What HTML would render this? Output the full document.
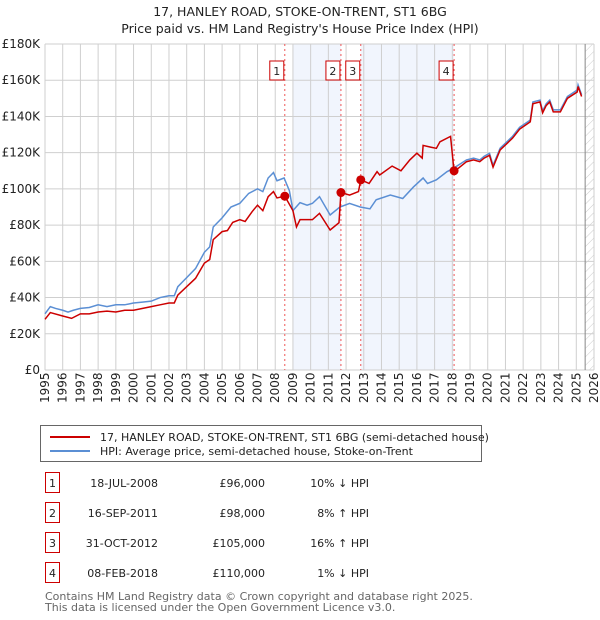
<!DOCTYPE html>
<html><head><meta charset="utf-8">
<style>
body{margin:0;background:#fff;font-family:"Liberation Sans","DejaVu Sans",sans-serif;}
#wrap{position:relative;width:600px;height:620px;overflow:hidden;}
svg text{font-family:"DejaVu Sans","Liberation Sans",sans-serif;}
</style></head>
<body><div id="wrap">
<svg id="chart" width="600" height="620"></svg>
</div>
<script>
const yearTicks=[1995,1996,1997,1998,1999,2000,2001,2002,2003,2004,2005,2006,2007,2008,2009,2010,2011,2012,2013,2014,2015,2016,2017,2018,2019,2020,2021,2022,2023,2024,2025,2026];
const yTicks=[0,20,40,60,80,100,120,140,160,180];
const yTickLabels=["£0","£20K","£40K","£60K","£80K","£100K","£120K","£140K","£160K","£180K"];
const hpiYears=[1995.0,1995.3,1995.6,1996.0,1996.3,1996.6,1997.0,1997.5,1998.0,1998.5,1999.0,1999.5,2000.0,2000.5,2001.0,2001.5,2002.0,2002.3,2002.5,2003.0,2003.5,2004.0,2004.3,2004.5,2005.0,2005.5,2006.0,2006.5,2007.0,2007.3,2007.6,2007.9,2008.1,2008.5,2008.8,2009.0,2009.4,2009.8,2010.1,2010.5,2011.1,2011.65,2012.2,2012.8,2013.35,2013.7,2014.5,2015.2,2015.8,2016.35,2016.6,2017.1,2017.7,2018.05,2018.8,2019.2,2019.55,2019.8,2020.1,2020.3,2020.7,2021.4,2021.8,2022.4,2022.55,2022.95,2023.1,2023.3,2023.5,2023.7,2024.1,2024.5,2025.05,2025.1,2025.3];
const hpiValues=[31,35,34,33,32,33,34,34.5,36,35,36,36,37,37.5,38,40,41,41,46,51,56,65,68,79,84,90,92,97.5,100,98.5,106,109,104.5,106,99,88,92.4,91,92,95.7,85.6,90,92,90,89,94,96.6,94.7,101,106,103,105,109.5,111.3,116,117,116,118,119.6,113,122.5,129,134,138,148,149,143,147,149,143.6,143.6,151,154.6,157.4,152];
const ppYears=[1995.0,1995.3,1996.0,1996.5,1997.0,1997.5,1998.0,1998.5,1999.0,1999.5,2000.0,2001.0,2001.5,2002.0,2002.3,2002.5,2003.0,2003.5,2004.0,2004.3,2004.5,2005.0,2005.3,2005.6,2006.0,2006.3,2006.7,2007.0,2007.3,2007.6,2007.9,2008.1,2008.54,2009.0,2009.2,2009.4,2010.1,2010.5,2011.1,2011.6,2011.71,2012.2,2012.7,2012.83,2013.3,2013.75,2013.9,2014.6,2015.1,2015.6,2016.0,2016.3,2016.35,2016.8,2017.1,2017.3,2017.9,2018.1,2018.8,2019.2,2019.55,2019.8,2020.1,2020.3,2020.7,2021.4,2021.8,2022.4,2022.55,2022.95,2023.1,2023.3,2023.5,2023.7,2024.1,2024.5,2025.05,2025.1,2025.3];
const ppValues=[28,31.7,29.8,28.5,31,31,32,32.5,32,33,33,35,36,37,37,41.4,46,50.6,59,61,72,76.4,77,81.5,83,82,87.5,91,88,95.7,98.5,95,96,88,79,83,83,86.5,77.3,81.3,98,96.6,98.5,105,103,109.5,107.7,112.6,110,116,119.7,117,124,123,122.4,126,129,109.5,115,116,115,117,118.5,112,121.5,128,133,137,147,148,142,146,148,142.5,142.5,150,153.5,156.5,151];
const saleYears=[2008.54,2011.71,2012.83,2018.1];
const saleValues=[96,98,105,110];
const saleLabels=["1","2","3","4"];
const saleDates=["18-JUL-2008","16-SEP-2011","31-OCT-2012","08-FEB-2018"];
const salePrices=["£96,000","£98,000","£105,000","£110,000"];
const saleHpi=["10% ↓ HPI","8% ↑ HPI","16% ↑ HPI","1% ↓ HPI"];

const svg=document.getElementById('chart');const NS='http://www.w3.org/2000/svg';
const L=45,R=594,T=44,B=370;
const xs=y=>L+(y-1995)*(R-L)/31;
const ys=v=>B-v*(B-T)/180;
function mk(tag,attrs,parent){const e=document.createElementNS(NS,tag);for(const k in attrs)e.setAttribute(k,attrs[k]);(parent||svg).appendChild(e);return e;}
let t=mk('text',{x:300,y:16,'text-anchor':'middle','font-size':12.5,fill:'#222'});t.textContent='17, HANLEY ROAD, STOKE-ON-TRENT, ST1 6BG';

t=mk('text',{x:300,y:33,'text-anchor':'middle','font-size':12.5,fill:'#222'});t.textContent="Price paid vs. HM Land Registry's House Price Index (HPI)";

let s=mk('rect',{x:xs(2009.0),y:T,width:xs(saleYears[1])-xs(2009.0),height:B-T,fill:'#f1f5fd'});

s=mk('rect',{x:xs(saleYears[2]),y:T,width:xs(saleYears[3])-xs(saleYears[2]),height:B-T,fill:'#f1f5fd'});

const defs=mk('defs',{});const pat=mk('pattern',{id:'h',width:6,height:6,patternUnits:'userSpaceOnUse',patternTransform:'rotate(45)'},defs);
mk('line',{x1:0,y1:0,x2:0,y2:6,stroke:'#ccc','stroke-width':1},pat);
s=mk('rect',{x:xs(2025.5),y:T,width:R-xs(2025.5),height:B-T,fill:'url(#h)'});

yearTicks.forEach(y=>{const g=mk('line',{x1:xs(y),x2:xs(y),y1:T,y2:B,stroke:'#cfcfcf','stroke-width':1});

const tx=mk('text',{x:0,y:0,'font-size':12,fill:'#222',transform:`translate(${xs(y)+4},${B+33}) rotate(-90)`});tx.textContent=y;
});
yTicks.forEach((v,i)=>{const g=mk('line',{x1:L,x2:R,y1:ys(v),y2:ys(v),stroke:'#cfcfcf','stroke-width':1});

const tx=mk('text',{x:L-5,y:ys(v)+4,'text-anchor':'end','font-size':12,fill:'#222'});tx.textContent=yTickLabels[i];
});
let ln=mk('line',{x1:xs(2025.5),x2:xs(2025.5),y1:T,y2:B,stroke:'#888','stroke-width':1});

saleYears.forEach((y,i)=>{const l=mk('line',{x1:xs(y),x2:xs(y),y1:T,y2:B,stroke:'#e55','stroke-width':1,'stroke-dasharray':'2,3'});

const r=mk('rect',{x:xs(y)-15,y:61,width:14,height:19,fill:'#fff',stroke:'#c00','stroke-width':1});

const tx=mk('text',{x:xs(y)-8,y:75,'text-anchor':'middle','font-size':11,fill:'#222'});tx.textContent=saleLabels[i];
});
let p=mk('polyline',{points:hpiYears.map((y,i)=>xs(y)+','+ys(hpiValues[i])).join(' '),fill:'none',stroke:'#5b8fd4','stroke-width':1.5});

p=mk('polyline',{points:ppYears.map((y,i)=>xs(y)+','+ys(ppValues[i])).join(' '),fill:'none',stroke:'#cc0000','stroke-width':1.5});

saleYears.forEach((y,i)=>{const c=mk('circle',{cx:xs(y),cy:ys(saleValues[i]),r:4.5,fill:'#cc0000'});
});
let lg=mk('rect',{x:40.5,y:425.5,width:441,height:36,fill:'#fff',stroke:'#666','stroke-width':1});

ln=mk('line',{x1:50,x2:90,y1:437,y2:437,stroke:'#cc0000','stroke-width':2});
ln=mk('line',{x1:50,x2:90,y1:451,y2:451,stroke:'#5b8fd4','stroke-width':2});
t=mk('text',{x:100,y:441,'font-size':11,fill:'#222'});t.textContent='17, HANLEY ROAD, STOKE-ON-TRENT, ST1 6BG (semi-detached house)';

t=mk('text',{x:100,y:455,'font-size':11,fill:'#222'});t.textContent='HPI: Average price, semi-detached house, Stoke-on-Trent';

saleLabels.forEach((lab,i)=>{const cy=483+i*30;
const r=mk('rect',{x:45.5,y:cy-10.5,width:14,height:20,fill:'#fff',stroke:'#c00','stroke-width':1});

let tx=mk('text',{x:52.5,y:cy+4,'text-anchor':'middle','font-size':11,fill:'#222'});tx.textContent=lab;

tx=mk('text',{x:158,y:cy+4,'text-anchor':'end','font-size':11,fill:'#222'});tx.textContent=saleDates[i];

tx=mk('text',{x:265,y:cy+4,'text-anchor':'end','font-size':11,fill:'#222'});tx.textContent=salePrices[i];

tx=mk('text',{x:369,y:cy+4,'text-anchor':'end','font-size':11,fill:'#222'});tx.textContent=saleHpi[i];
});
t=mk('text',{x:45,y:600,'font-size':11,fill:'#666'});t.textContent='Contains HM Land Registry data © Crown copyright and database right 2025.';

t=mk('text',{x:45,y:611,'font-size':11,fill:'#666'});t.textContent='This data is licensed under the Open Government Licence v3.0.';

</script></body></html>
